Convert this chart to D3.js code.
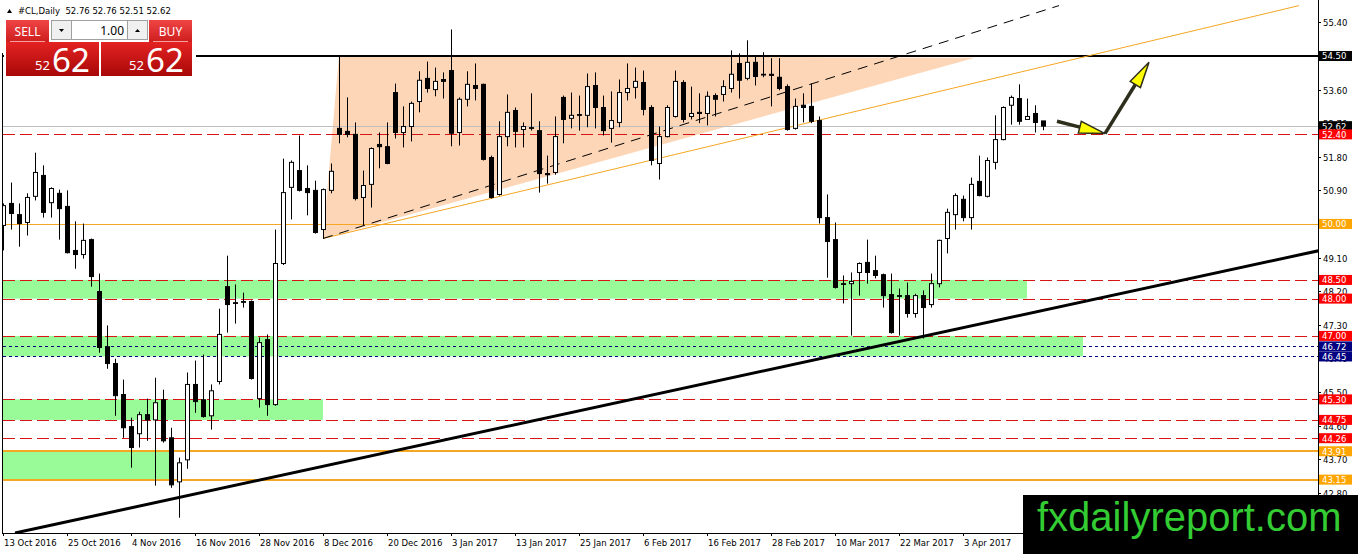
<!DOCTYPE html>
<html>
<head>
<meta charset="utf-8">
<script src="https://cdn.jsdelivr.net/npm/d3@7/dist/d3.min.js"></script>
<style>
  html, body { margin: 0; padding: 0; background: #fff; overflow: hidden; }
  svg { display: block; font-family: "DejaVu Sans", sans-serif; }
</style>
</head>
<body>
<div id="chart"></div>
<script>
// --- data ---
const symbol = '#CL,Daily';
const lastBar = [52.76, 52.76, 52.51, 52.62];

const opens = [
  49.96, 50.55, 50.25, 50.04, 50.74, 51.30, 50.57, 50.82, 50.47, 49.29,
  49.18, 49.58, 48.19, 46.71, 46.26, 45.43, 44.57, 44.38, 44.89, 44.75,
  45.29, 44.27, 43.09, 43.68, 45.70, 45.29, 44.86, 45.78, 48.32, 47.89,
  47.92, 47.92, 45.32, 46.90, 45.16, 48.94, 50.98, 51.43, 50.95, 50.90,
  49.85, 50.90, 52.56, 52.48, 52.40, 50.71, 51.06, 52.13, 52.07, 53.52,
  52.45, 52.61, 53.28, 53.90, 53.60, 53.87, 54.11, 52.45, 53.34, 53.71,
  53.74, 51.78, 50.79, 52.34, 53.04, 52.53, 52.58, 52.50, 51.35, 51.38,
  53.39, 52.83, 52.93, 52.91, 53.71, 53.12, 52.56, 52.72, 53.52, 53.66,
  53.79, 53.12, 51.62, 52.34, 52.88, 53.79, 52.88, 52.99, 52.96, 53.44,
  53.47, 53.63, 54.30, 53.90, 54.33, 54.01, 54.01, 53.93, 53.68, 52.56,
  53.18, 53.15, 52.77, 50.17, 49.58, 48.40, 48.40, 48.70, 48.97, 48.75,
  48.64, 48.11, 48.08, 48.08, 47.60, 48.08, 47.84, 48.40, 49.61, 50.25,
  50.66, 50.17, 51.14, 50.74, 51.65, 52.26, 53.18, 53.36, 52.80, 52.96,
  52.76
];
const highs = [
  50.55, 51.11, 50.55, 50.82, 51.91, 51.57, 50.98, 50.92, 50.90, 50.07,
  50.01, 49.61, 48.67, 47.28, 46.39, 45.83, 44.81, 44.97, 45.32, 45.88,
  45.56, 44.54, 43.74, 46.02, 46.34, 46.50, 45.70, 47.73, 49.15, 48.38,
  48.16, 47.95, 46.96, 47.04, 49.85, 51.75, 51.70, 52.37, 51.57, 51.16,
  50.95, 51.62, 54.52, 53.39, 52.72, 51.43, 52.05, 52.45, 52.72, 53.76,
  53.15, 53.28, 54.09, 54.35, 54.19, 54.06, 55.21, 53.39, 54.09, 54.30,
  53.76, 51.83, 52.75, 53.47, 53.12, 52.72, 53.50, 52.75, 51.83, 52.88,
  53.44, 53.52, 53.44, 54.03, 54.06, 53.44, 53.55, 53.87, 54.30, 54.19,
  54.11, 53.18, 52.61, 53.18, 54.11, 53.85, 53.68, 53.50, 53.55, 53.50,
  53.85, 54.65, 54.57, 54.92, 54.52, 54.60, 54.44, 54.44, 53.74, 53.36,
  53.50, 53.76, 52.88, 50.79, 50.04, 48.62, 48.70, 48.97, 49.58, 49.15,
  48.67, 48.67, 48.27, 48.43, 48.13, 48.22, 48.67, 49.58, 50.41, 50.82,
  50.76, 51.24, 51.83, 51.78, 52.91, 53.15, 53.44, 53.74, 53.36, 53.18,
  52.76
];
const lows = [
  49.29, 49.85, 49.39, 49.69, 50.63, 50.17, 50.17, 49.58, 49.21, 48.80,
  49.07, 48.32, 46.55, 46.12, 44.86, 44.27, 43.47, 44.01, 44.19, 42.99,
  44.14, 42.93, 42.13, 43.44, 44.94, 44.81, 44.49, 45.70, 47.09, 47.33,
  47.76, 45.83, 45.08, 44.86, 45.13, 48.90, 50.12, 50.87, 50.23, 49.74,
  49.61, 50.82, 52.16, 52.32, 50.63, 49.96, 50.44, 51.49, 51.60, 52.29,
  52.05, 52.21, 52.99, 53.52, 53.42, 53.36, 52.08, 52.10, 53.15, 53.31,
  51.70, 50.68, 50.76, 52.08, 52.05, 52.05, 52.50, 50.84, 51.08, 51.32,
  52.16, 52.56, 52.50, 52.59, 52.56, 52.37, 52.18, 52.59, 53.31, 53.36,
  52.91, 51.57, 51.19, 52.32, 52.85, 52.72, 52.80, 52.70, 52.64, 52.88,
  53.28, 53.52, 53.36, 53.85, 53.71, 53.93, 53.15, 53.58, 52.50, 52.53,
  52.72, 52.70, 50.01, 48.56, 48.27, 47.87, 47.01, 48.08, 48.40, 48.54,
  47.76, 47.06, 47.01, 47.49, 47.49, 46.93, 47.76, 48.30, 49.21, 49.85,
  50.07, 49.85, 50.74, 50.71, 51.46, 52.24, 52.66, 52.66, 52.80, 52.45,
  52.51
];
const closes = [
  50.49, 50.28, 50.01, 50.71, 51.38, 50.31, 50.95, 50.41, 49.23, 49.18,
  49.56, 48.59, 46.69, 46.26, 45.40, 44.54, 44.01, 44.89, 44.75, 45.21,
  44.19, 43.01, 43.60, 45.70, 45.24, 44.84, 45.53, 47.04, 47.84, 47.87,
  47.90, 45.86, 46.82, 45.16, 48.94, 50.84, 51.65, 50.90, 50.84, 49.77,
  50.92, 51.41, 52.40, 52.40, 50.68, 51.03, 52.02, 52.07, 51.62, 52.45,
  52.61, 53.23, 53.85, 53.63, 53.82, 53.82, 52.43, 53.34, 53.74, 53.63,
  51.73, 50.71, 52.34, 52.99, 52.48, 52.61, 52.56, 51.35, 51.32, 52.34,
  52.80, 52.91, 52.91, 53.68, 53.12, 52.50, 52.77, 53.52, 53.63, 53.82,
  53.07, 51.70, 52.34, 53.12, 53.82, 52.80, 52.96, 52.96, 53.42, 53.34,
  53.68, 54.01, 53.85, 54.33, 53.95, 53.99, 53.98, 53.63, 52.53, 53.15,
  53.12, 52.75, 50.17, 49.53, 48.30, 48.38, 48.46, 48.94, 48.70, 48.62,
  48.08, 47.09, 48.06, 47.60, 48.08, 47.76, 48.40, 49.56, 50.31, 50.76,
  50.17, 51.06, 50.76, 51.70, 52.26, 53.12, 53.39, 52.75, 52.88, 52.72,
  52.62
];

const dateLabels = [
  '13 Oct 2016', '25 Oct 2016', '4 Nov 2016', '16 Nov 2016', '28 Nov 2016',
  '8 Dec 2016', '20 Dec 2016', '3 Jan 2017', '13 Jan 2017', '25 Jan 2017',
  '6 Feb 2017', '16 Feb 2017', '28 Feb 2017', '10 Mar 2017', '22 Mar 2017',
  '3 Apr 2017'
];
const barsPerLabel = 8;
const priceTicks = [55.40, 54.50, 53.60, 52.70, 51.80, 50.90, 50.00, 49.10,
  48.20, 47.30, 46.40, 45.50, 44.60, 43.70, 42.80];

// horizontal levels drawn on the chart
const levelPrices = [54.50, 52.62, 52.40, 50.00, 48.50, 48.00, 47.00, 46.72, 46.45,
  45.30, 44.75, 44.26, 43.91, 43.15];
const levelKinds = ['black', 'bid', 'red', 'orange', 'red', 'red', 'red', 'navy', 'navy',
  'red', 'red', 'red', 'orangeBold', 'orangeBold'];

// green zones: [low, high] and bar span
const zoneLows = [48.00, 46.45, 44.75, 43.15];
const zoneHighs = [48.50, 47.00, 45.30, 43.91];
const zoneEnds = [128, 135, 40, 21.1];

// drawn objects, as [bar, price] points
const supportLine = [[1.5, 41.72], [164.4, 49.28]];
const channelLine = [[40, 49.61], [162, 55.85]];
const dashedLine = [[40, 49.61], [132, 55.85]];
const triangle = [[42, 54.52], [121.5, 54.45], [40, 49.61]];
const arrowsPts = [
  [[131.75, 52.75], [137.75, 52.42]],
  [[137.75, 52.42], [143.25, 54.33]]
];

// --- layout ---
const W = 1358, H = 554;
const plotL = 3, plotR = 1318, plotB = 533;

const svg = d3.select('#chart').append('svg')
  .attr('width', W).attr('height', H);

const x = d3.scaleLinear().domain([0, (plotR - plotL) / 8]).range([plotL, plotR]);
const y = d3.scaleLinear().domain([41.72, 56.0]).range([plotB, 0]);

const defs = svg.append('defs');
defs.append('clipPath').attr('id', 'plotClip')
  .append('rect').attr('x', plotL).attr('y', 0).attr('width', plotR - plotL).attr('height', plotB);

const g = svg.append('g').attr('clip-path', 'url(#plotClip)');

// zones
g.selectAll('rect.zone').data(zoneLows).enter().append('rect')
  .attr('x', plotL)
  .attr('y', (d, i) => y(zoneHighs[i]))
  .attr('width', (d, i) => x(zoneEnds[i]) - plotL)
  .attr('height', (d, i) => y(d) - y(zoneHighs[i]))
  .attr('fill', '#98fb98');

// triangle
g.append('polygon')
  .attr('points', triangle.map(p => [x(p[0]), y(p[1])].join(',')).join(' '))
  .attr('fill', '#fcd6b6');

// levels
const levelStyle = {
  black: { c: '#000', w: 2, dash: null },
  bid: { c: '#c0c0c0', w: 1, dash: null },
  red: { c: '#d81414', w: 1, dash: '12,5' },
  orange: { c: '#f5a623', w: 1, dash: null },
  orangeBold: { c: '#f5a623', w: 2, dash: null },
  navy: { c: '#000080', w: 1, dash: '3,3' }
};
levelPrices.forEach((p, i) => {
  const s = levelStyle[levelKinds[i]];
  const yy = Math.round(y(p)) + (s.w === 1 ? 0.5 : 0);
  g.append('line')
    .attr('x1', plotL).attr('x2', plotR)
    .attr('y1', yy).attr('y2', yy)
    .attr('stroke', s.c).attr('stroke-width', s.w)
    .attr('stroke-dasharray', s.dash);
});

// trend lines
const line = d3.line().x(d => x(d[0])).y(d => y(d[1]));
g.append('path').attr('d', line(channelLine))
  .attr('stroke', '#f5a623').attr('stroke-width', 1).attr('fill', 'none');
g.append('path').attr('d', line(dashedLine))
  .attr('stroke', '#000').attr('stroke-width', 1).attr('stroke-dasharray', '10,7').attr('fill', 'none');
g.append('path').attr('d', line(supportLine))
  .attr('stroke', '#000').attr('stroke-width', 3).attr('fill', 'none');

// candles
const idx = d3.range(opens.length);
const cg = g.append('g');
cg.selectAll('line.wick').data(idx).enter().append('line')
  .attr('x1', i => Math.round(x(i)) + 0.5).attr('x2', i => Math.round(x(i)) + 0.5)
  .attr('y1', i => y(highs[i])).attr('y2', i => y(lows[i]))
  .attr('stroke', '#000').attr('stroke-width', 1);
cg.selectAll('rect.body').data(idx).enter().append('rect')
  .attr('x', i => Math.round(x(i)) - 1.5)
  .attr('y', i => Math.min(y(opens[i]), y(closes[i])))
  .attr('width', 4)
  .attr('height', i => Math.max(0.6, Math.abs(y(opens[i]) - y(closes[i]))))
  .attr('fill', i => closes[i] >= opens[i] ? '#fff' : '#000')
  .attr('stroke', '#000').attr('stroke-width', 1);

// arrows
const ag = g.append('g');
arrowsPts.forEach(a => {
  const [p0, p1] = a;
  const x0 = x(p0[0]), y0 = y(p0[1]), x1 = x(p1[0]), y1 = y(p1[1]);
  const len = Math.hypot(x1 - x0, y1 - y0);
  const ux = (x1 - x0) / len, uy = (y1 - y0) / len;
  const L = 26, hw = 6;
  const bx = x1 - ux * L, by = y1 - uy * L;
  ag.append('line').attr('x1', x0).attr('y1', y0).attr('x2', bx).attr('y2', by)
    .attr('stroke', '#2e2e1c').attr('stroke-width', 3.5);
  ag.append('polygon')
    .attr('points', [[x1, y1], [bx - uy * hw, by + ux * hw], [bx + uy * hw, by - ux * hw]].map(p => p.join(',')).join(' '))
    .attr('fill', '#ffff00').attr('stroke', '#2e2e1c').attr('stroke-width', 1.5);
});

// white backing under the trade panel
svg.append('rect').attr('x', plotL + 1).attr('y', 0).attr('width', 192).attr('height', 60).attr('fill', '#fff');

// frame
svg.append('line').attr('x1', 2.5).attr('x2', 2.5).attr('y1', 53).attr('y2', plotB).attr('stroke', '#000');
svg.append('line').attr('x1', plotR + 0.5).attr('x2', plotR + 0.5).attr('y1', 0).attr('y2', plotB).attr('stroke', '#000');
svg.append('line').attr('x1', 2).attr('x2', plotR + 1).attr('y1', plotB + 0.5).attr('y2', plotB + 0.5).attr('stroke', '#000');

// x axis labels
const xt = svg.append('g');
dateLabels.forEach((lab, k) => {
  const xx = Math.round(x(k * barsPerLabel)) + 0.5;
  xt.append('line').attr('x1', xx).attr('x2', xx).attr('y1', plotB).attr('y2', plotB + 3).attr('stroke', '#000');
  xt.append('text').attr('x', xx + 0.5).attr('y', plotB + 13)
    .attr('font-size', 8.5).attr('fill', '#000').text(lab);
});

// y axis ticks
const yt = svg.append('g');
priceTicks.forEach(p => {
  const yy = Math.round(y(p)) + 0.5;
  yt.append('line').attr('x1', plotR).attr('x2', plotR + 3).attr('y1', yy).attr('y2', yy).attr('stroke', '#000');
  yt.append('text').attr('x', plotR + 5).attr('y', yy + 3.5)
    .attr('font-size', 8.5).attr('fill', '#000').text(p.toFixed(2));
});

// level labels on axis
const labelFill = { black: '#000', bid: '#000', red: '#ff0000', orange: '#ffa500', orangeBold: '#ffa500', navy: '#000080' };
levelPrices.forEach((p, i) => {
  const yy = y(p);
  yt.append('rect').attr('x', plotR + 1).attr('y', yy - 5).attr('width', 33).attr('height', 10)
    .attr('fill', labelFill[levelKinds[i]]);
  yt.append('text').attr('x', plotR + 4).attr('y', yy + 3.5)
    .attr('font-size', 8.5).attr('fill', '#fff').text(p.toFixed(2));
});

// header
svg.append('polygon').attr('points', '7,13 12,13 9.5,9').attr('fill', '#000');
svg.append('text').attr('x', 18).attr('y', 14).attr('font-size', 8.5).attr('fill', '#000')
  .attr('xml:space', 'preserve')
  .text(symbol + '  ' + lastBar.map(v => v.toFixed(2)).join(' '));

// one click trade panel
const gBtn = defs.append('linearGradient').attr('id', 'btnGrad').attr('x1', 0).attr('x2', 0).attr('y1', 0).attr('y2', 1);
gBtn.append('stop').attr('offset', '0%').attr('stop-color', '#f04444');
gBtn.append('stop').attr('offset', '100%').attr('stop-color', '#cc1c1c');
const gPx = defs.append('linearGradient').attr('id', 'pxGrad').attr('x1', 0).attr('x2', 0).attr('y1', 0).attr('y2', 1);
gPx.append('stop').attr('offset', '0%').attr('stop-color', '#e42222');
gPx.append('stop').attr('offset', '100%').attr('stop-color', '#a80808');

const panel = svg.append('g').attr('font-family', '"Noto Sans", sans-serif');
const bid = lastBar[3].toFixed(2).split('.');
const sides = [
  { label: 'SELL', btnX: 6, boxX: 6, boxW: 93, bigX: 35 },
  { label: 'BUY', btnX: 149, boxX: 101, boxW: 91, bigX: 129 }
];
sides.forEach(s => {
  panel.append('rect').attr('x', s.btnX).attr('y', 20).attr('width', 43).attr('height', 23).attr('fill', 'url(#btnGrad)');
  panel.append('rect').attr('x', s.boxX).attr('y', 42).attr('width', s.boxW).attr('height', 34).attr('fill', 'url(#pxGrad)');
  panel.append('line').attr('x1', s.btnX + 4).attr('x2', s.btnX + 39).attr('y1', 41.5).attr('y2', 41.5)
    .attr('stroke', '#f5a0a0').attr('stroke-width', 1);
  panel.append('text').attr('x', s.btnX + 21.5).attr('y', 36).attr('text-anchor', 'middle')
    .attr('font-size', 12).attr('fill', '#fff').text(s.label);
  panel.append('text').attr('x', s.bigX).attr('y', 70)
    .attr('font-size', 13).attr('fill', '#fff').text(bid[0]);
  panel.append('text').attr('x', s.bigX + 17).attr('y', 72)
    .attr('font-size', 33).attr('fill', '#fff').text(bid[1]);
});
panel.append('rect').attr('x', 51.5).attr('y', 20.5).attr('width', 20).attr('height', 19)
  .attr('fill', '#f0f0f0').attr('stroke', '#a0a0a0');
panel.append('rect').attr('x', 71.5).attr('y', 20.5).attr('width', 56).attr('height', 19)
  .attr('fill', '#fff').attr('stroke', '#a0a0a0');
panel.append('rect').attr('x', 127.5).attr('y', 20.5).attr('width', 20).attr('height', 19)
  .attr('fill', '#f0f0f0').attr('stroke', '#a0a0a0');
panel.append('polygon').attr('points', '59,29 64,29 61.5,32').attr('fill', '#000');
panel.append('polygon').attr('points', '135,32 140,32 137.5,29').attr('fill', '#000');
panel.append('text').attr('x', 124).attr('y', 35).attr('text-anchor', 'end')
  .attr('font-size', 12).attr('fill', '#000').text('1.00');

// watermark
svg.append('rect').attr('x', 1023).attr('y', 495).attr('width', W - 1023).attr('height', H - 495).attr('fill', '#000');
svg.append('text').attr('x', 1037).attr('y', 531)
  .attr('font-family', '"Liberation Sans", Arial, sans-serif').attr('font-size', 40)
  .attr('fill', '#33cc33').text('fxdailyreport.com');
</script>
</body>
</html>
